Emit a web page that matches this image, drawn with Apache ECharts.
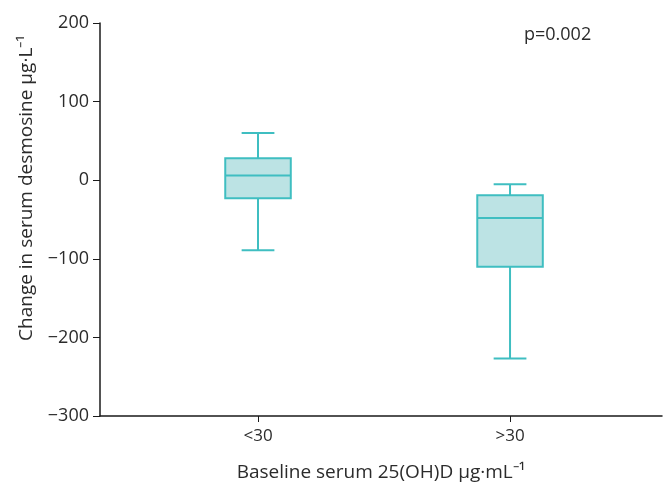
<!DOCTYPE html>
<html>
<head>
<meta charset="utf-8">
<script src="https://cdn.jsdelivr.net/npm/echarts@6/dist/echarts.min.js"></script>
<style>
  html, body { margin: 0; padding: 0; background: #fff; }
  #chart { width: 668px; height: 487px; }
</style>
</head>
<body>
<div id="chart"></div>
<script>
// groups on the x axis (positions 1 and 2)
const groups = ['<30', '>30']
const groupPos = [1, 2]
// box stats: [min, Q1, median, Q3, max]
const whiskerLow = [-89, -227]
const q1 = [-23, -110]
const median = [6, -48]
const q3 = [28, -19]
const whiskerHigh = [60, -5]
const yTicks = [-300, -200, -100, 0, 100, 200]

const stroke = '#3fbec1'
const fill = '#bce3e4'
const txt = '#2b2b2b'
const font = 'Open Sans'

const boxData = groupPos.map((x, i) => [x, whiskerLow[i], q1[i], median[i], q3[i], whiskerHigh[i]])

function renderBox(params, api) {
  const x = api.value(0)
  const w = api.size([0.26, 0])[0]
  const pLow = api.coord([x, api.value(1)])
  const pQ1 = api.coord([x, api.value(2)])
  const pMed = api.coord([x, api.value(3)])
  const pQ3 = api.coord([x, api.value(4)])
  const pHigh = api.coord([x, api.value(5)])
  const cx = pMed[0]
  const lineStyle = { stroke: stroke, lineWidth: 2 }
  const line = (x1, y1, x2, y2) => ({
    type: 'line',
    shape: { x1, y1, x2, y2 },
    style: lineStyle,
  })
  return {
    type: 'group',
    children: [
      line(cx, pHigh[1], cx, pQ3[1]),
      line(cx, pQ1[1], cx, pLow[1]),
      line(cx - w / 4, pHigh[1], cx + w / 4, pHigh[1]),
      line(cx - w / 4, pLow[1], cx + w / 4, pLow[1]),
      {
        type: 'rect',
        shape: { x: cx - w / 2, y: pQ3[1], width: w, height: pQ1[1] - pQ3[1] },
        style: { fill: fill, stroke: stroke, lineWidth: 2 },
      },
      line(cx - w / 2, pMed[1], cx + w / 2, pMed[1]),
    ],
  }
}

const chart = echarts.init(document.getElementById('chart'))

const option = {
  animation: false,
  grid: { left: 100, right: 6, top: 23, bottom: 60, containLabel: false },
  xAxis: {
    type: 'value',
    min: 0.373,
    max: 2.603,
    splitLine: { show: false },
    axisLine: { onZero: false, lineStyle: { color: '#1a1a1a', width: 1.5 } },
    axisTick: { show: true, length: 6, customValues: groupPos, lineStyle: { color: '#1a1a1a' } },
    axisLabel: {
      customValues: groupPos,
      formatter: (v) => groups[groupPos.indexOf(v)] || '',
      color: txt, fontFamily: font, fontSize: 17, margin: 12,
    },
    name: 'Baseline serum 25(OH)D μg·mL⁻¹',
    nameLocation: 'middle',
    nameGap: 47,
    nameTextStyle: { color: txt, fontFamily: font, fontSize: 19 },
  },
  yAxis: {
    type: 'value',
    min: yTicks[0],
    max: yTicks[yTicks.length - 1],
    interval: 100,
    splitLine: { show: false },
    axisLine: { show: true, lineStyle: { color: '#1a1a1a', width: 1.5 } },
    axisTick: { show: true, length: 7, lineStyle: { color: '#1a1a1a' } },
    axisLabel: {
      color: txt, fontFamily: font, fontSize: 18, margin: 11,
      formatter: (v) => String(v).replace('-', '−'),
    },
  },
  graphic: [
    {
      type: 'text',
      x: 27,
      y: 188,
      rotation: Math.PI / 2,
      style: {
        text: 'Change in serum desmosine μg·L⁻¹',
        fill: txt,
        font: '19px "Open Sans"',
        align: 'center',
        verticalAlign: 'middle',
      },
    },
    {
      type: 'text',
      x: 524,
      y: 35,
      style: { text: 'p=0.002', fill: txt, font: '18px "Open Sans"', verticalAlign: 'middle' },
    },
  ],
  series: [
    {
      type: 'custom',
      renderItem: renderBox,
      data: boxData,
      encode: { x: 0, y: [1, 2, 3, 4, 5] },
    },
  ],
}

chart.setOption(option)
</script>
</body>
</html>
